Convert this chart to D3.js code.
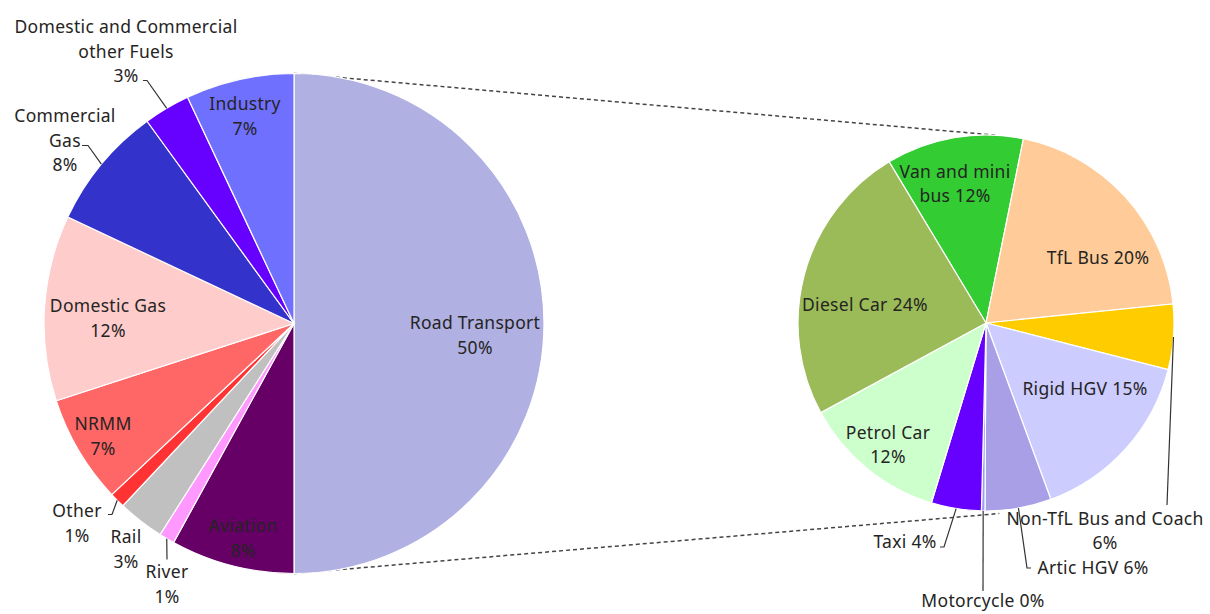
<!DOCTYPE html>
<html>
<head>
<meta charset="utf-8">
<script src="https://cdn.jsdelivr.net/npm/d3@7"></script>
<style>
  body { margin: 0; background: #fff; }
  svg text { font-family: "Noto Sans", "Open Sans", sans-serif; font-size: 17.5px; letter-spacing: 0.3px; fill: #252423; }
</style>
</head>
<body>
<svg id="chart" width="1210" height="614"></svg>
<script>
// main pie: emission share by source
var sources = ["Road Transport", "Aviation", "River", "Rail", "Other", "NRMM", "Domestic Gas",
               "Commercial Gas", "Domestic and Commercial other Fuels", "Industry"];
var source_values = [50, 8, 1, 3, 1, 7, 12, 8, 3, 7];
var source_colors = ["#b0b0e2", "#660066", "#ff99ff", "#c0c0c0", "#ff3333", "#ff6666", "#ffcccc",
                     "#3333cc", "#6600ff", "#7070ff"];

// breakdown of road transport
var vehicles = ["Van and mini bus", "TfL Bus", "Non-TfL Bus and Coach", "Rigid HGV", "Artic HGV",
                "Motorcycle", "Taxi", "Petrol Car", "Diesel Car"];
var vehicle_values = [11.8, 20.2, 5.6, 15.4, 5.7, 0.3, 4.3, 12.4, 24.3];
var vehicle_colors = ["#33cc33", "#ffcc99", "#ffcc00", "#ccccff", "#a99fe6", "#9999ff", "#6600ff",
                      "#ccffcc", "#9bbb59"];

// label layout: lines of text, offset from pie centre, optional leader (elbow points relative to centre)
var source_labels = {
    "Road Transport": {lines: ["Road Transport", "50%"], x: 181, y: 12},
    "Aviation": {lines: ["Aviation", "8%"], x: -51, y: 215},
    "River": {lines: ["River", "1%"], x: -127, y: 261, leader: [[-127, 236]]},
    "Rail": {lines: ["Rail", "3%"], x: -168, y: 226},
    "Other": {lines: ["Other", "1%"], x: -217, y: 200, leader: [[-182, 191], [-186, 191]]},
    "NRMM": {lines: ["NRMM", "7%"], x: -191, y: 113},
    "Domestic Gas": {lines: ["Domestic Gas", "12%"], x: -186, y: -5},
    "Commercial Gas": {lines: ["Commercial", "Gas", "8%"], x: -229, y: -183, leader: [[-206, -178], [-212, -178]]},
    "Domestic and Commercial other Fuels": {lines: ["Domestic and Commercial", "other Fuels", "3%"], x: -168, y: -272, leader: [[-147, -243], [-151, -243]]},
    "Industry": {lines: ["Industry", "7%"], x: -49, y: -207}
};
var vehicle_labels = {
    "Van and mini bus": {lines: ["Van and mini", "bus 12%"], x: -31, y: -139},
    "TfL Bus": {lines: ["TfL Bus 20%"], x: 112, y: -65},
    "Non-TfL Bus and Coach": {lines: ["Non-TfL Bus and Coach", "6%"], x: 119, y: 208, leader: [[181, 182]]},
    "Rigid HGV": {lines: ["Rigid HGV 15%"], x: 99, y: 66},
    "Artic HGV": {lines: ["Artic HGV 6%"], x: 107, y: 245, leader: [[41, 245], [45, 245]]},
    "Motorcycle": {lines: ["Motorcycle 0%"], x: -3, y: 278, leader: [[-3, 268]]},
    "Taxi": {lines: ["Taxi 4%"], x: -81, y: 219, leader: [[-42, 224], [-46, 224]]},
    "Petrol Car": {lines: ["Petrol Car", "12%"], x: -98, y: 122},
    "Diesel Car": {lines: ["Diesel Car 24%"], x: -121, y: -18}
};

var svg = d3.select("#chart");
var line_height = 24.5;

var left_pie = {cx: 294, cy: 323.5, r: 250, start: 0};
var right_pie = {cx: 986, cy: 323, r: 188, start: -31 * Math.PI / 180};

function polar(p, angle, radius) {
    return [p.cx + radius * Math.sin(angle), p.cy - radius * Math.cos(angle)];
}

// connector lines between the pies (drawn first so the pies cover them)
var connector = svg.append("g");
var joins = [
    [polar(left_pie, 0, left_pie.r), polar(right_pie, 3.4 * Math.PI / 180, right_pie.r)],
    [polar(left_pie, Math.PI, left_pie.r), polar(right_pie, 176 * Math.PI / 180, right_pie.r + 3)]
];
connector.selectAll("line").data(joins).join("line")
    .attr("x1", d => d[0][0]).attr("y1", d => d[0][1])
    .attr("x2", d => d[1][0]).attr("y2", d => d[1][1])
    .attr("stroke", "#444")
    .attr("stroke-width", 1.5)
    .attr("stroke-dasharray", "4,3");

function draw_pie(p, names, values, colors, labels) {
    var pie = d3.pie().sort(null).value(d => d.value)
        .startAngle(p.start).endAngle(p.start + 2 * Math.PI);
    var data = names.map((n, i) => ({name: n, value: values[i], color: colors[i]}));
    var arcs = pie(data);
    var arc = d3.arc().innerRadius(0).outerRadius(p.r);

    var g = svg.append("g").attr("transform", `translate(${p.cx},${p.cy})`);
    g.selectAll("path").data(arcs).join("path")
        .attr("d", arc)
        .attr("fill", d => d.data.color)
        .attr("stroke", "#fff")
        .attr("stroke-width", 1.2);

    // leader lines from the slice edge to the label
    g.selectAll(".leader").data(arcs.filter(d => labels[d.data.name].leader)).join("polyline")
        .attr("class", "leader")
        .attr("fill", "none")
        .attr("stroke", "#333")
        .attr("stroke-width", 1.2)
        .attr("points", function(d) {
            var mid = (d.startAngle + d.endAngle) / 2;
            var pts = [[p.r * Math.sin(mid), -p.r * Math.cos(mid)]].concat(labels[d.data.name].leader);
            return pts.map(q => q.join(",")).join(" ");
        });

    var txt = g.selectAll(".lbl").data(arcs).join("text")
        .attr("class", "lbl")
        .attr("text-anchor", "middle")
        .attr("x", d => labels[d.data.name].x)
        .attr("y", function(d) {
            var n = labels[d.data.name].lines.length;
            return labels[d.data.name].y - (n - 1) * line_height / 2;
        });
    txt.selectAll("tspan").data(d => labels[d.data.name].lines.map(t => ({t: t, x: labels[d.data.name].x})))
        .join("tspan")
        .attr("x", d => d.x)
        .attr("dy", (d, i) => i === 0 ? "0.35em" : line_height)
        .text(d => d.t);
}

draw_pie(left_pie, sources, source_values, source_colors, source_labels);
draw_pie(right_pie, vehicles, vehicle_values, vehicle_colors, vehicle_labels);
</script>
</body>
</html>
